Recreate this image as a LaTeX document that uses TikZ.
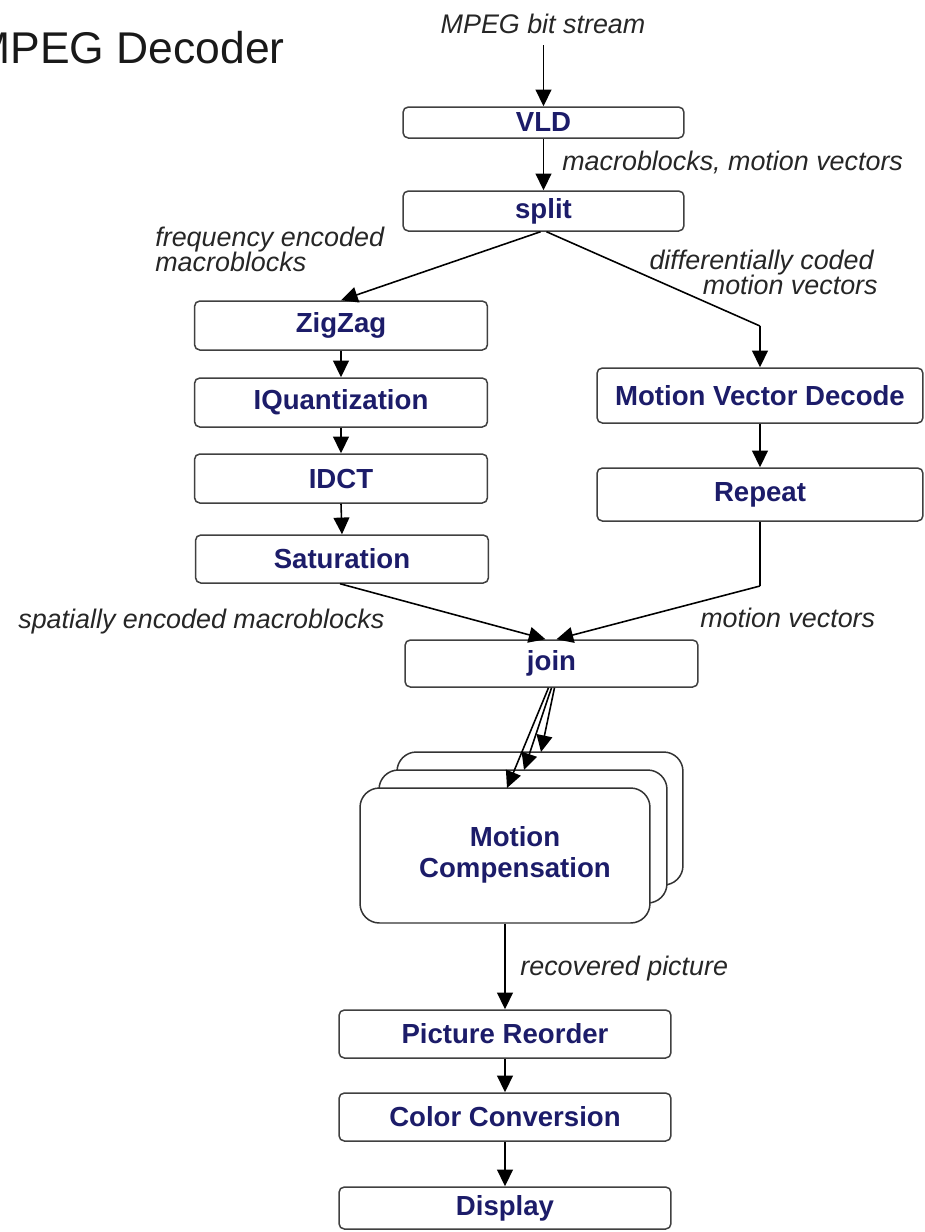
\documentclass[tikz,border=0pt]{standalone}
\usepackage{fontspec}
\setmainfont{Liberation Sans}
\usetikzlibrary{arrows.meta}
\definecolor{navy}{RGB}{28,28,105}
\begin{document}
\begin{tikzpicture}[x=0.02cm,y=-0.02cm,
  blk/.style={draw=black!75, line width=0.85pt, rounded corners=3pt, fill=white, inner sep=0pt,
    font=\fontsize{15.7}{18}\selectfont\bfseries, text=navy},
  mcbox/.style={draw=black!80, line width=0.85pt, rounded corners=11pt, fill=white, inner sep=0pt,
    minimum width=5.8cm, minimum height=2.7cm},
  lbl/.style={font=\fontsize{15.3}{16}\selectfont\itshape, text=black!85, inner sep=0pt},
  arr/.style={draw=black, line width=0.9pt, -{Triangle[length=9.5pt,width=9pt]}},
  ln/.style={draw=black, line width=0.9pt}]
\useasboundingbox (0,0) rectangle (925,1232);

% title
\node[anchor=base west, inner sep=0pt, font=\fontsize{25.3}{28}\selectfont, text=black!90] (title) at (-27,63) {MPEG Decoder};

% boxes
\node[blk, minimum width=5.62cm, minimum height=0.62cm] (vld) at (543.5,122.5) {VLD};
\node[blk, minimum width=5.62cm, minimum height=0.80cm] (split) at (543.5,211) {split};
\node[blk, minimum width=5.86cm, minimum height=0.98cm] (zz) at (341,325.5) {ZigZag};
\node[blk, minimum width=5.86cm, minimum height=0.98cm] (iq) at (341,402.5) {IQuantization};
\node[blk, minimum width=5.86cm, minimum height=0.98cm] (idct) at (341,478.5) {IDCT};
\node[blk, minimum width=5.86cm, minimum height=0.96cm] (sat) at (342,559) {Saturation};
\node[blk, minimum width=6.52cm, minimum height=1.10cm] (mvd) at (760,395.5) {Motion Vector Decode};
\node[blk, minimum width=6.52cm, minimum height=1.06cm] (rep) at (760,494.5) {Repeat};
\node[blk, minimum width=5.86cm, minimum height=0.94cm] (join) at (551.5,663.5) {join};

\node[mcbox, minimum width=5.72cm, minimum height=2.66cm] (mc3) at (540,818.5) {};
\node[mcbox, minimum width=5.76cm, minimum height=2.66cm] (mc2) at (523,836.5) {};
\node[mcbox] (mc1) at (505,855.5) {};
\node[font=\fontsize{15.7}{18}\selectfont\bfseries, text=navy, align=center, inner sep=0pt] (mctext) at (515,855) {Motion\\[-0.5pt]Compensation};

\node[blk, minimum width=6.64cm, minimum height=0.96cm] (reo) at (505,1034) {Picture Reorder};
\node[blk, minimum width=6.64cm, minimum height=0.96cm] (col) at (505,1117) {Color Conversion};
\node[blk, minimum width=6.64cm, minimum height=0.84cm] (disp) at (505,1208) {Display};

% labels
\node[lbl, anchor=base] (lbits) at (543,33) {MPEG bit stream};
\node[lbl, anchor=base west] (lmb) at (562,170) {macroblocks, motion vectors};
\node[lbl, anchor=base west] (lfe1) at (155,246) {frequency encoded};
\node[lbl, anchor=base west] (lfe2) at (155,271) {macroblocks};
\node[lbl, anchor=base east] (ldc1) at (874,269) {differentially coded};
\node[lbl, anchor=base east] (ldc2) at (878,294) {motion vectors};
\node[lbl, anchor=base west] (lsp) at (18,628) {spatially encoded macroblocks};
\node[lbl, anchor=base west] (lmv) at (700,627) {motion vectors};
\node[lbl, anchor=base west] (lrp) at (520,975) {recovered picture};

% connectors
\coordinate (src) at (543.5,45);
\draw[arr] (src) -- (vld.north);
\draw[arr] (vld.south) -- (split.north);
\draw[arr] ([xshift=-0.06cm]split.south) -- (zz.north);
\coordinate (bendA) at (760,326);
\draw[ln] ([xshift=0.06cm]split.south) -- (bendA);
\draw[arr] (bendA) -- (mvd.north);
\draw[arr] (zz.south) -- (iq.north);
\draw[arr] (iq.south) -- (idct.north);
\draw[arr] (idct.south) -- (sat.north);
\draw[arr] (mvd.south) -- (rep.north);
\coordinate (bendB) at (760,586);
\draw[ln] (rep.south) -- (bendB);
\draw[arr] (bendB) -- ([xshift=0.1cm]join.north);
\draw[arr] ([xshift=-0.04cm]sat.south) -- ([xshift=-0.12cm]join.north);
\coordinate (t1) at (507,788);
\coordinate (t2) at (524,770);
\coordinate (t3) at (541,752);
\draw[arr] ([xshift=-0.06cm]join.south) -- (t1);
\draw[arr] ([xshift=0cm]join.south) -- (t2);
\draw[arr] ([xshift=0.06cm]join.south) -- (t3);
\draw[arr] (mc1.south) -- (reo.north);
\draw[arr] (reo.south) -- (col.north);
\draw[arr] (col.south) -- (disp.north);
\end{tikzpicture}
\end{document}
